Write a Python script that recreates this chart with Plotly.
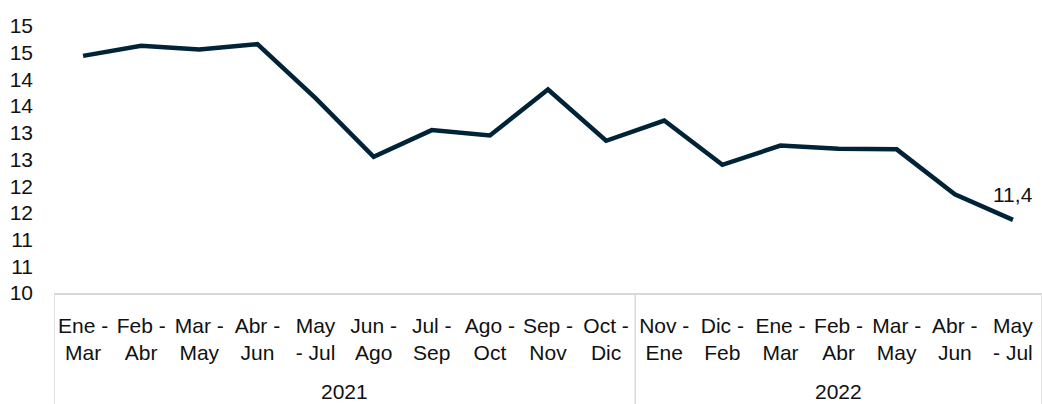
import plotly.graph_objects as go

# ---- data ----
periods = ["Ene -<br>Mar", "Feb -<br>Abr", "Mar -<br>May", "Abr -<br>Jun", "May<br>- Jul",
           "Jun -<br>Ago", "Jul -<br>Sep", "Ago -<br>Oct", "Sep -<br>Nov", "Oct -<br>Dic",
           "Nov -<br>Ene", "Dic -<br>Feb", "Ene -<br>Mar", "Feb -<br>Abr", "Mar -<br>May",
           "Abr -<br>Jun", "May<br>- Jul"]
years = ["2021"] * 10 + ["2022"] * 7
values = [14.44, 14.63, 14.56, 14.66, 13.65, 12.55, 13.05, 12.95, 13.81, 12.85,
          13.23, 12.40, 12.76, 12.70, 12.69, 11.85, 11.37]
ytick_vals = [10, 10.5, 11, 11.5, 12, 12.5, 13, 13.5, 14, 14.5, 15]
ytick_text = ["10", "11", "11", "12", "12", "13", "13", "14", "14", "15", "15"]
year_groups = ["2021", "2022"]

FONT = "Liberation Sans, Arial, sans-serif"
FS = 21
TXT = "#111111"
LINE_COLOR = "#012338"
GRID = "#d9d9d9"

x_idx = list(range(len(values)))

fig = go.Figure()
fig.add_trace(go.Scatter(
    x=x_idx, y=values, mode="lines",
    line=dict(color=LINE_COLOR, width=4.5),
    hoverinfo="skip", showlegend=False,
))

# data label on last point
last = len(values) - 1
fig.add_annotation(
    x=x_idx[last], y=values[last], xref="x", yref="y",
    text=f"{values[last]:.1f}".replace(".", ","),
    showarrow=False, yshift=25,
    font=dict(family=FONT, size=FS, color=TXT),
)

# year group labels and dividers
bounds = []
start = 0
for g in year_groups:
    n = years.count(g)
    end = start + n - 1
    center = (start + end) / 2
    fig.add_annotation(
        x=center, y=-0.37, xref="x", yref="paper",
        text=g, showarrow=False, yanchor="middle",
        font=dict(family=FONT, size=FS, color=TXT),
    )
    bounds.append(start - 0.5)
    start = end + 1
bounds.append(start - 0.5)

for b in bounds:
    fig.add_shape(
        type="line", xref="x", yref="paper",
        x0=b, x1=b, y0=0, y1=-0.45,
        line=dict(color=GRID, width=1.5),
    )

fig.update_layout(
    width=1042, height=404,
    margin=dict(l=54, r=0, t=26, b=111),
    paper_bgcolor="white", plot_bgcolor="white",
    font=dict(family=FONT, size=FS, color=TXT),
    xaxis=dict(
        range=[-0.5, len(values) - 0.5],
        tickmode="array", tickvals=x_idx, ticktext=periods,
        showgrid=False, zeroline=False,
        showline=True, linecolor=GRID, linewidth=1.5,
        ticks="", ticklabelstandoff=13,
        tickfont=dict(family=FONT, size=FS, color=TXT),
    ),
    yaxis=dict(
        range=[10, 15],
        tickmode="array", tickvals=ytick_vals, ticktext=ytick_text,
        showgrid=False, zeroline=False, showline=False,
        ticks="", ticklabelstandoff=20,
        tickfont=dict(family=FONT, size=FS, color=TXT),
    ),
)

fig.write_html("out.html",
               config={"displayModeBar": False},
               post_script="document.body.style.margin='0';document.body.style.overflow='hidden';")
